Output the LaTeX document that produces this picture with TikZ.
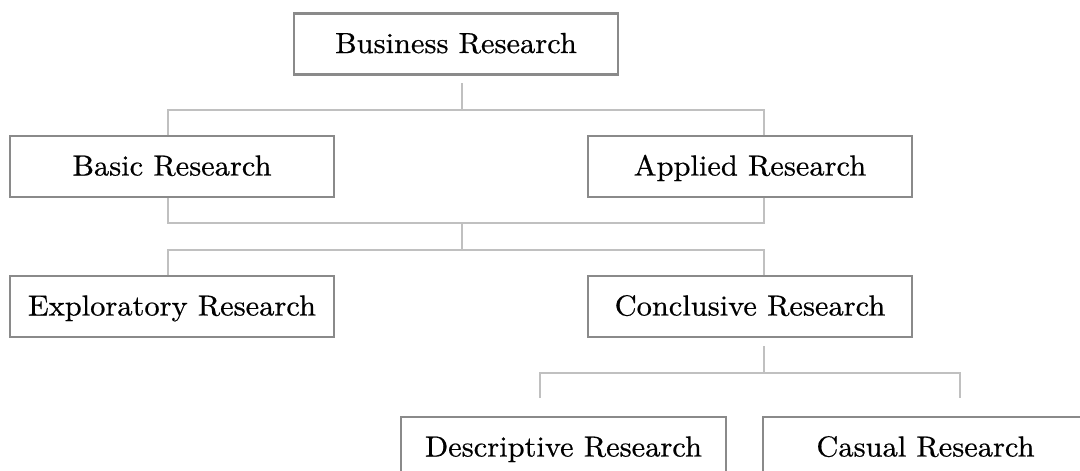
\documentclass[tikz,border=0pt]{standalone}
\usepackage{fontspec}
\setmainfont{lmroman10-regular}[Extension=.otf, FakeStretch=1.05, FakeBold=0.6]
\usetikzlibrary{backgrounds}
\definecolor{boxgray}{RGB}{138,138,138}
\definecolor{linegray}{RGB}{192,192,192}
\tikzset{
  rbox/.style={draw=boxgray, line width=2.8pt, fill=white, minimum height=61pt,
    minimum width=324pt, inner sep=0pt, text=black,
    text height=22pt, text depth=4pt,
    font=\fontsize{29}{33}\selectfont},
  conn/.style={draw=linegray, line width=1.1pt}
}
\begin{document}
\begin{tikzpicture}[x=1pt,y=-1pt]
\clip (0,0) rectangle (1080,471);
% boxes
\node[rbox] (bus) at (456,44) {Business Research};
\node[rbox] (basic) at (172,166.5) {Basic Research};
\node[rbox] (appl) at (750,166.5) {Applied Research};
\node[rbox] (expl) at (172,306.5) {Exploratory Research};
\node[rbox] (concl) at (750,306.5) {Conclusive Research};
\node[rbox, minimum width=325pt] (desc) at (563.5,447.5) {Descriptive Research};
\node[rbox, minimum width=325pt] (cas) at (925.5,447.5) {Casual Research};
% junction coordinates
\coordinate (j1top) at (462,83);
\coordinate (j1) at (462,110);
\coordinate (j1l) at (168,110);
\coordinate (j1r) at (764,110);
\coordinate (j2l) at (168,223);
\coordinate (j2r) at (764,223);
\coordinate (j2) at (462,223);
\coordinate (j3) at (462,250);
\coordinate (j3l) at (168,250);
\coordinate (j3r) at (764,250);
\coordinate (j4top) at (764,346);
\coordinate (j4) at (764,373);
\coordinate (j4l) at (540,373);
\coordinate (j4r) at (960,373);
\coordinate (j4ld) at (540,398);
\coordinate (j4rd) at (960,398);
% connectors
\begin{scope}[on background layer]
\fill[white] (0,0) rectangle (1080,471);
\draw[conn] (j1top) -- (j1);
\draw[conn] (basic.north -| j1l) -- (j1l) -- (j1r) -- (appl.north -| j1r);
\draw[conn] (basic.south -| j2l) -- (j2l) -- (j2r) -- (appl.south -| j2r);
\draw[conn] (j2) -- (j3);
\draw[conn] (expl.north -| j3l) -- (j3l) -- (j3r) -- (concl.north -| j3r);
\draw[conn] (j4top) -- (j4);
\draw[conn] (j4ld) -- (j4l) -- (j4r) -- (j4rd);
\end{scope}
\end{tikzpicture}
\end{document}
